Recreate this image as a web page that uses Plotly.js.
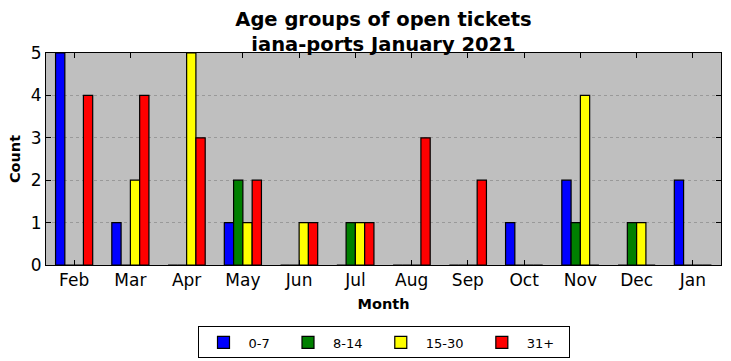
<!DOCTYPE html>
<html>
<head>
<meta charset="utf-8">
<script src="https://cdn.plot.ly/plotly-3.0.1.min.js"></script>
<style>html,body{margin:0;padding:0;background:#fff;}#chart{width:731px;height:361px;}</style>
</head>
<body>
<div id="chart"></div>
<script>
var months = ["Feb","Mar","Apr","May","Jun","Jul","Aug","Sep","Oct","Nov","Dec","Jan"];
var seriesNames = ["0-7","8-14","15-30","31+"];
var seriesColors = ["#0000ff","#008000","#ffff00","#ff0000"];
var age0to7   = [5,1,0,1,0,0,0,0,1,2,0,2];
var age8to14  = [0,0,0,2,0,1,0,0,0,1,1,0];
var age15to30 = [0,2,5,1,1,1,0,0,0,4,1,0];
var age31plus = [4,4,3,2,1,1,3,2,0,0,0,0];
var seriesValues = [age0to7, age8to14, age15to30, age31plus];

var font = "DejaVu Sans, sans-serif";
var pad = "\u00a0\u00a0";
var traces = seriesNames.map(function(name, i){
  return {
    type: "bar",
    name: name + pad,
    x: months,
    y: seriesValues[i],
    marker: {color: seriesColors[i], line: {color: "#000", width: 1.2}},
    hoverinfo: "x+y+name"
  };
});

var layout = {
  width: 731, height: 361,
  margin: {l: 46, r: 10, t: 53, b: 96, autoexpand: false},
  paper_bgcolor: "#ffffff",
  plot_bgcolor: "#bfbfbf",
  barmode: "group",
  bargap: 0.34,
  bargroupgap: 0,
  font: {family: font, color: "#000", size: 16},
  title: {
    text: "<b>Age groups of open tickets<br>iana-ports January 2021</b>",
    font: {family: font, size: 19.5, color: "#000"},
    x: 0.5, xref: "paper", xanchor: "center",
    y: 0.929, yref: "container", yanchor: "top"
  },
  xaxis: {
    type: "category",
    range: [-0.5, 11.5],
    automargin: false,
    showline: true, linecolor: "#000", linewidth: 1, mirror: "ticks",
    ticks: "inside", ticklen: 5, tickcolor: "#000",
    showgrid: false, zeroline: false,
    tickfont: {family: font, size: 17, color: "#000"},
    title: {text: "<b>Month</b>", font: {family: font, size: 14.5, color: "#000"}, standoff: 9}
  },
  yaxis: {
    range: [0, 5], dtick: 1, tick0: 0,
    automargin: false,
    showline: true, linecolor: "#000", linewidth: 1, mirror: "ticks",
    ticks: "inside", ticklen: 5, tickcolor: "#000",
    showgrid: true, gridcolor: "#999999", griddash: "dot", gridwidth: 1,
    zeroline: false,
    tickfont: {family: font, size: 17, color: "#000"},
    title: {text: "<b>Count</b>", font: {family: font, size: 14.5, color: "#000"}, standoff: 6}
  },
  legend: {
    orientation: "h",
    x: 0.5, xanchor: "center", xref: "paper",
    y: -0.29, yanchor: "top",
    bordercolor: "#000", borderwidth: 1, bgcolor: "#fff",
    font: {family: font, size: 13, color: "#000"},
    itemwidth: 40
  },
  showlegend: true
};

Plotly.newPlot("chart", traces, layout, {displayModeBar: false, staticPlot: true});
</script>
</body>
</html>
